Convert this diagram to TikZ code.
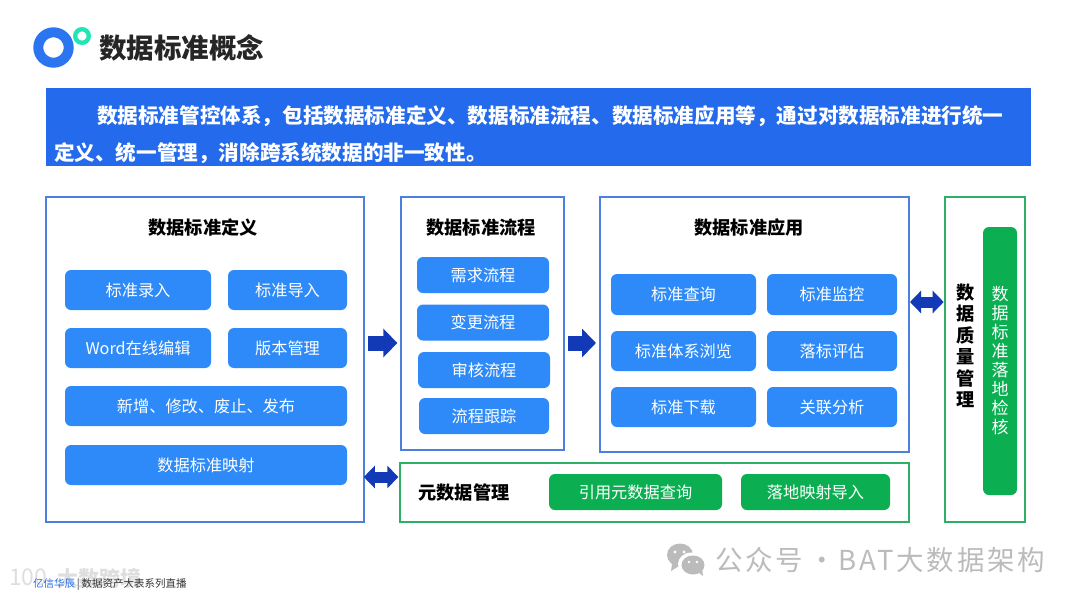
\documentclass[tikz,border=0pt]{standalone}
\usepackage{fontspec}
\setmainfont{Noto Sans CJK SC}
\newfontfamily\wmfont[LetterSpace=10]{Noto Sans CJK SC}
\usetikzlibrary{arrows.meta}
\definecolor{bannerblue}{HTML}{236AEC}
\definecolor{logoblue}{HTML}{2B76F0}
\definecolor{logoteal}{HTML}{22E5B5}
\definecolor{itemblue}{HTML}{2E8AF8}
\definecolor{panelblue}{HTML}{4C80DE}
\definecolor{itemgreen}{HTML}{0BAF52}
\definecolor{panelgreen}{HTML}{2DB065}
\definecolor{arrowblue}{HTML}{1239B6}
\definecolor{wmgray}{HTML}{BBBBBB}
\tikzset{
  panel/.style={rectangle, draw=panelblue, line width=2pt, fill=white},
  gpanel/.style={rectangle, draw=panelgreen, line width=2pt, fill=white},
  heading/.style={font=\fontsize{18.2}{21.5}\selectfont\bfseries, text=black, align=center, inner sep=0pt},
  item/.style={rectangle, rounded corners=6pt, fill=itemblue, text=white, inner sep=0pt,
    font=\fontsize{16.2}{19}\selectfont, align=center},
  gitem/.style={item, fill=itemgreen},
  blockarrow/.style={draw=arrowblue, line width=15pt, -{Triangle[length=14pt,width=28pt]},
    shorten <=3pt, shorten >=3pt},
  blockboth/.style={draw=arrowblue, line width=11pt,
    {Triangle[length=11pt,width=22pt]}-{Triangle[length=11pt,width=22pt]}}
}
\begin{document}
\begin{tikzpicture}[x=1pt,y=-1pt]
\useasboundingbox (0,0) rectangle (1080,603);

%% ── Title ──────────────────────────────────────────────
\draw[draw=logoblue, line width=10pt] (53.5,47.5) circle (15.2pt);
\draw[draw=logoteal, line width=4.4pt] (82,36) circle (6.8pt);
\node[font=\fontsize{27.5}{30}\selectfont\bfseries, text=black!85, anchor=west, inner sep=0pt] (title) at (99,48) {数据标准概念};

\node[rectangle, fill=bannerblue, minimum width=985.5pt, minimum height=78pt, inner sep=0pt] (banner) at (538.25,127) {};
\node[font=\fontsize{20.6}{37}\selectfont\bfseries, text=white, anchor=west, align=left, inner sep=0pt] (bannertext) at (54,135)
  {\hspace*{43pt}数据标准管控体系，包括数据标准定义、数据标准流程、数据标准应用等，通过对数据标准进行统一\\定义、统一管理，消除跨系统数据的非一致性。};

%% ── Panels ─────────────────────────────────────────────
\node[panel, minimum width=318pt, minimum height=325pt] (defpanel) at (205.3,359.5) {};
\node[panel, minimum width=162.7pt, minimum height=252.7pt] (flowpanel) at (482.7,323.4) {};
\node[panel, minimum width=309pt, minimum height=254.4pt] (apppanel) at (754.5,324.5) {};
\node[gpanel, minimum width=80.6pt, minimum height=325.3pt] (qualpanel) at (985,359.4) {};
\node[gpanel, minimum width=508.7pt, minimum height=58.7pt] (metapanel) at (654.7,492.7) {};

\node[heading] (defhead) at (203,227.5) {数据标准定义};
\node[heading] (flowhead) at (481,227.5) {数据标准流程};
\node[heading] (apphead) at (749,227.5) {数据标准应用};
\node[heading] (metahead) at (464,492.5) {元数据管理};
\node[heading] (qualhead) at (965.5,346) {数\\据\\质\\量\\管\\理};

%% ── Standard definition items ──────────────────────────
\node[item, minimum width=146pt, minimum height=40pt] (entry)   at (138,290) {标准录入};
\node[item, minimum width=119pt, minimum height=40pt] (import)  at (287.5,290) {标准导入};
\node[item, minimum width=146pt, minimum height=40pt] (word)    at (138,348) {Word在线编辑};
\node[item, minimum width=119pt, minimum height=40pt] (version) at (287.5,348) {版本管理};
\node[item, minimum width=282pt, minimum height=40pt] (change)  at (206,406) {新增、修改、废止、发布};
\node[item, minimum width=282pt, minimum height=40pt] (mapping) at (206,465) {数据标准映射};

%% ── Standard process items ─────────────────────────────
\node[item, minimum width=132pt, minimum height=36pt] (demand) at (483,275) {需求流程};
\node[item, minimum width=132pt, minimum height=36pt] (alter)  at (483,322.5) {变更流程};
\node[item, minimum width=132pt, minimum height=36pt] (review) at (484,370) {审核流程};
\node[item, minimum width=130pt, minimum height=36pt] (track)  at (484,416) {流程跟踪};

%% ── Standard application items ─────────────────────────
\node[item, minimum width=145pt, minimum height=41pt] (query)   at (683.5,294.5) {标准查询};
\node[item, minimum width=130pt, minimum height=41pt] (monitor) at (832,294.5) {标准监控};
\node[item, minimum width=145pt, minimum height=40pt] (browse)  at (683.5,351) {标准体系浏览};
\node[item, minimum width=130pt, minimum height=40pt] (assess)  at (832,351) {落标评估};
\node[item, minimum width=145pt, minimum height=40pt] (download) at (683.5,407) {标准下载};
\node[item, minimum width=130pt, minimum height=40pt] (analyse) at (832,407) {关联分析};

%% ── Green items ────────────────────────────────────────
\node[gitem, minimum width=173pt, minimum height=36pt] (metaquery)  at (635.5,492) {引用元数据查询};
\node[gitem, minimum width=149pt, minimum height=36pt] (metaimport) at (815.5,492) {落地映射导入};
\node[gitem, minimum width=34pt, minimum height=268pt, font=\fontsize{17}{19}\selectfont] (landing) at (1000,361) {数\\据\\标\\准\\落\\地\\检\\核};

%% ── Connections ────────────────────────────────────────
\coordinate (rowA) at (0,343);
\coordinate (rowB) at (0,302);
\coordinate (rowC) at (0,477);
\draw[blockarrow] (defpanel.east |- rowA) -- (flowpanel.west |- rowA);
\draw[blockarrow] (flowpanel.east |- rowA) -- (apppanel.west |- rowA);
\draw[blockboth] (apppanel.east |- rowB) -- (qualpanel.west |- rowB);
\draw[blockboth, shorten <=-1.5pt, shorten >=1pt] (defpanel.east |- rowC) -- (metapanel.west |- rowC);

%% ── Footer marks ───────────────────────────────────────
\node[font=\fontsize{21}{25}\selectfont\bfseries, text=black!13, anchor=west, inner sep=0pt] (mark) at (57,578) {大数跨境};
\node[font=\fontsize{23}{25}\selectfont, text=black!13, anchor=west, inner sep=0pt] (markid) at (9,577) {100};
\node[font=\fontsize{10.5}{12}\selectfont, anchor=west, inner sep=0pt] (footer) at (33,584.5)
  {\textcolor{bannerblue}{亿信华辰}\textcolor{black!80}{\,|\,数据资产大表系列直播}};

% chat bubbles
\fill[wmgray] (680,555) ellipse (13pt and 11.5pt);
\fill[wmgray] (672,564) -- (671,571) -- (679,566) -- cycle;
\fill[white] (691.5,564) ellipse (13.5pt and 11.5pt);
\fill[wmgray] (693,565) ellipse (11.5pt and 9.5pt);
\fill[wmgray] (698,572) -- (703,576) -- (702,568) -- cycle;
\fill[white] (675,552) circle (1.6pt) (684,552) circle (1.6pt) (689,562) circle (1.4pt) (697,562) circle (1.4pt);
\node[font=\wmfont\fontsize{27.5}{30}\selectfont, text=wmgray, anchor=west, inner sep=0pt] (wechat) at (715,560) {公众号\hspace{5pt}·\hspace{3pt}BAT大数据架构};

\end{tikzpicture}
\end{document}
